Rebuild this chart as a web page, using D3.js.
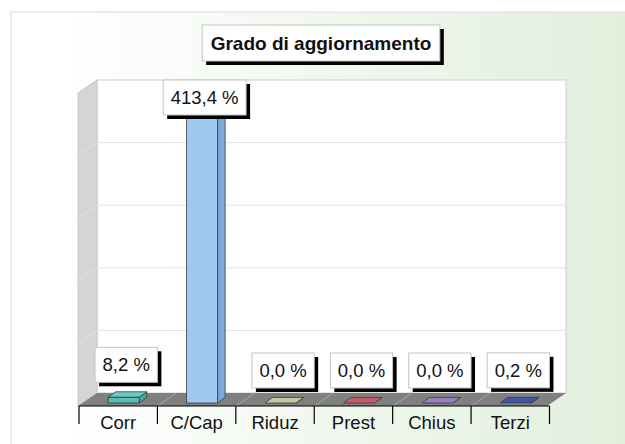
<!DOCTYPE html>
<html><head><meta charset="utf-8">
<script src="https://cdnjs.cloudflare.com/ajax/libs/d3/7.8.5/d3.min.js"></script>
<style>html,body{margin:0;padding:0;background:#fff}svg{display:block}text{font-family:"Liberation Sans",Arial,sans-serif;fill:#111}</style>
</head><body><svg id="c" width="625" height="444"></svg>
<script>
const categories = ["Corr","C/Cap","Riduz","Prest","Chius","Terzi"];
const values = [8.2,413.4,0,0,0,0.2];
const valueLabels = ["8,2 %","413,4 %","0,0 %","0,0 %","0,0 %","0,2 %"];
const frontColors = ["#5cbcb6","#9fc9ee","#c6c7a6","#c95c6a","#9b7fc4","#3b55b2"];
const sideColors = ["#4aa5a0","#7ca8dc","#b0b190","#b04c58","#8468ac","#2f4698"];
const topColors = ["#6ccac4","#afd4f2","#c6c7a6","#c95c6a","#9b7fc4","#3b55b2"];
const gridTicks = [90,180,270,360,450];
const titleText = "Grado di aggiornamento";

const svg = d3.select("#c");
const defs = svg.append("defs");
const g = defs.append("linearGradient").attr("id","bg").attr("x1","0").attr("x2","1").attr("y1","0").attr("y2","0");
g.append("stop").attr("offset","0.08").attr("stop-color","#ffffff");
g.append("stop").attr("offset","1").attr("stop-color","#e1efdc");

svg.append("rect").attr("x",11).attr("y",12).attr("width",620).attr("height",440)
  .attr("fill","url(#bg)").attr("stroke","#dcdcdc");

const dx = 19, dy = -13;            // full depth of the chart box
const barDx = 7.5, barDy = -5.5;    // depth of one bar
const x = d3.scaleBand().domain(categories).range([79,549.5]);
const y = d3.scaleLinear().domain([0,450]).range([393,80]);
const backLeft = 97, backRight = 566, frontY = y(0)-dy;

// back wall
svg.append("rect").attr("x",backLeft).attr("y",y(450)).attr("width",backRight-backLeft).attr("height",y(0)-y(450))
  .attr("fill","#fff").attr("stroke","#cfcfcf");
// side wall
svg.append("polygon").attr("points",[[backLeft+-dx,y(450)-dy],[backLeft,y(450)],[backLeft,y(0)],[backLeft-dx,frontY]].join(" "))
  .attr("fill","#d5d5d5").attr("stroke","#c8c8c8");
// gridlines
svg.selectAll(".grid").data(gridTicks.slice(0,-1)).join("line").attr("class","grid")
  .attr("x1",backLeft).attr("x2",backRight).attr("y1",d=>y(d)).attr("y2",d=>y(d)).attr("stroke","#e2e2e2");
svg.selectAll(".sgrid").data(gridTicks.slice(0,-1)).join("line").attr("class","sgrid")
  .attr("x1",backLeft).attr("x2",backLeft-dx).attr("y1",d=>y(d)).attr("y2",d=>y(d)-dy).attr("stroke","#e4e4e4");
// floor
svg.append("polygon").attr("points",[[backLeft-dx,frontY],[backLeft,y(0)],[backRight,y(0)],[backRight-dx,frontY]].join(" "))
  .attr("fill","#808080");
const edges = categories.map(c=>x(c)).concat([x.range()[1]]);
svg.selectAll(".fsep").data(edges.slice(1,-1)).join("line").attr("class","fsep")
  .attr("x1",d=>d).attr("x2",d=>d+dx).attr("y1",frontY).attr("y2",y(0)).attr("stroke","#a8a8a8");

// bars
const barW = 31, barOff = x.bandwidth()/2+5.5-barW/2;
const bars = svg.selectAll(".bar").data(categories).join("g").attr("class","bar");
const y0 = frontY-3;
const hOf = i => y(0)-y(values[i]);
bars.each(function(c,i){
  const s = d3.select(this), l = x(c)+barOff, r = l+barW, t = y0-hOf(i);
  s.append("polygon").attr("points",[[r,y0],[r+barDx,y0+barDy],[r+barDx,t+barDy],[r,t]].join(" "))
    .attr("fill",sideColors[i]).attr("stroke","#3c3c3c").attr("stroke-width",.8);
  s.append("polygon").attr("points",[[l,t],[l+barDx,t+barDy],[r+barDx,t+barDy],[r,t]].join(" "))
    .attr("fill",topColors[i]).attr("stroke","#3c3c3c").attr("stroke-width",.8);
  if(hOf(i)>1) s.append("rect").attr("x",l).attr("y",t).attr("width",barW).attr("height",y0-t)
    .attr("fill",frontColors[i]).attr("stroke","#3c3c3c").attr("stroke-width",.8);
});

// x axis
svg.append("line").attr("x1",x.range()[0]).attr("x2",x.range()[1]).attr("y1",frontY).attr("y2",frontY).attr("stroke","#000").attr("stroke-width",1.2);
svg.selectAll(".tick2").data(edges).join("line").attr("class","tick2")
  .attr("x1",d=>d).attr("x2",d=>d).attr("y1",frontY).attr("y2",424).attr("stroke","#000").attr("stroke-width",1.2);
svg.selectAll(".cat").data(categories).join("text").attr("class","cat")
  .attr("x",c=>x(c)+x.bandwidth()/2).attr("y",429).attr("text-anchor","middle").attr("font-size",18.5).text(c=>c);

function box(cx, top, txt, size, weight, padX, h, baseOff, sh){
  const t = svg.append("text").attr("x",cx).attr("y",top+baseOff).attr("text-anchor","middle")
    .attr("font-size",size).attr("font-weight",weight).text(txt);
  const w = t.node().getComputedTextLength()+padX*2;
  const n = t.node();
  svg.insert("rect",()=>n).attr("x",cx-w/2+sh).attr("y",top+sh).attr("width",w).attr("height",h).attr("fill","#000");
  svg.insert("rect",()=>n).attr("x",cx-w/2).attr("y",top).attr("width",w).attr("height",h).attr("fill","#fff").attr("stroke","#c4c4c4");
}
// value labels
categories.forEach((c,i)=>{
  const top = Math.max(y(450), y0-hOf(i)-10-35-5);
  box(x(c)+x.bandwidth()/2+8, top, valueLabels[i], 18.5, "normal", 7.5, 35, 24, 4);
});
// title
box(321, 25, titleText, 19, "bold", 8.5, 36, 25, 4);
</script></body></html>
